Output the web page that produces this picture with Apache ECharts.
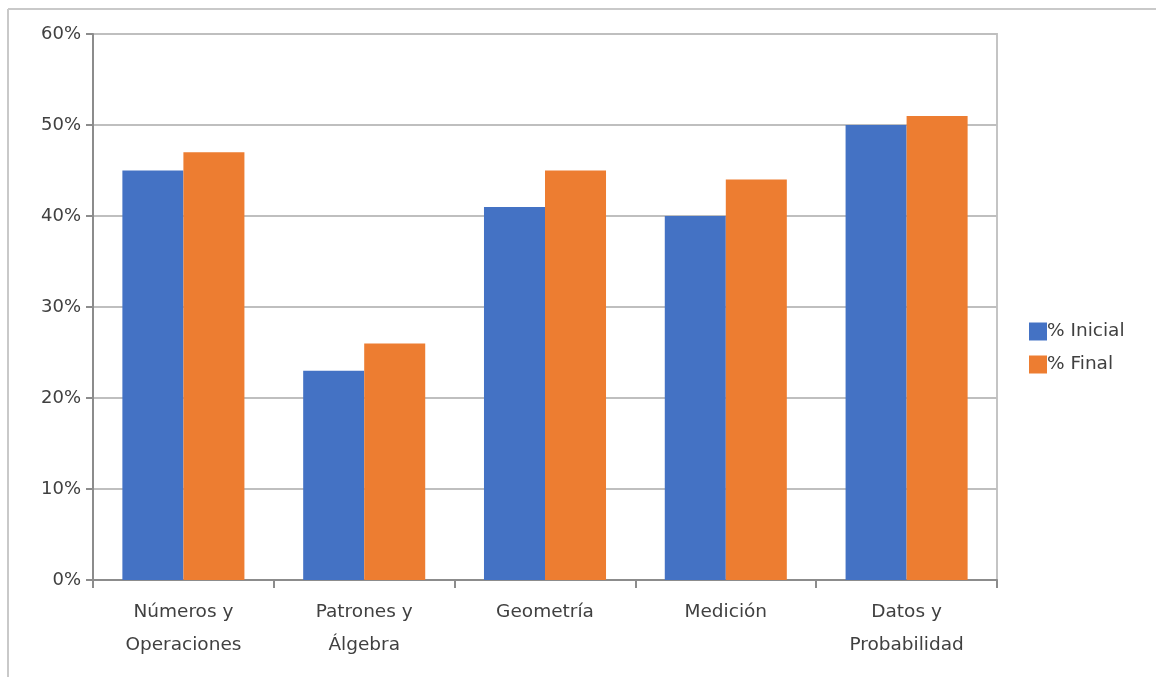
<!DOCTYPE html>
<html>
<head>
<meta charset="utf-8">
<script src="https://cdn.jsdelivr.net/npm/echarts@6/dist/echarts.min.js"></script>
<style>
html,body{margin:0;padding:0;background:#fff;}
#chart{width:1156px;height:677px;}
</style>
</head>
<body>
<div id="chart"></div>
<script>
const categories = ['Números y\nOperaciones', 'Patrones y\nÁlgebra', 'Geometría', 'Medición', 'Datos y\nProbabilidad'];
const inicial = [45, 23, 41, 40, 50];
const final = [47, 26, 45, 44, 51];
const yTicks = [0, 10, 20, 30, 40, 50, 60];

const chart = echarts.init(document.getElementById('chart'));
const font = 'DejaVu Sans';
chart.setOption({
  backgroundColor: '#fff',
  animation: false,
  textStyle: { fontFamily: font },
  graphic: [
    { type: 'line', shape: { x1: 8, y1: 9, x2: 1156, y2: 9 }, style: { stroke: '#c9c9c9', lineWidth: 2 } },
    { type: 'line', shape: { x1: 8, y1: 9, x2: 8, y2: 677 }, style: { stroke: '#c9c9c9', lineWidth: 2 } }
  ],
  grid: { left: 93, right: 159, top: 34, bottom: 97, show: true, borderColor: '#c4c4c4', borderWidth: 2, backgroundColor: 'transparent' },
  legend: {
    orient: 'vertical', left: 1024, top: 317,
    itemWidth: 18, itemHeight: 18, itemGap: 14,
    icon: 'rect',
    textStyle: { fontFamily: font, fontSize: 18.5, color: '#404040', padding: [0, 0, 0, -5] },
    data: ['% Inicial', '% Final']
  },
  xAxis: {
    type: 'category', data: categories,
    axisLine: { lineStyle: { color: '#8c8c8c', width: 2 } },
    axisTick: { show: true, alignWithLabel: false, length: 8, lineStyle: { color: '#8c8c8c', width: 2 } },
    axisLabel: { fontFamily: font, fontSize: 18.5, color: '#404040', margin: 16, lineHeight: 33, interval: 0 }
  },
  yAxis: {
    type: 'value', min: 0, max: 60, interval: 10,
    axisLine: { show: true, lineStyle: { color: '#8c8c8c', width: 2 } },
    axisTick: { show: true, length: 7, lineStyle: { color: '#8c8c8c', width: 2 } },
    axisLabel: { fontFamily: font, fontSize: 18, color: '#404040', margin: 12, padding: [8, 0, 0, 0], formatter: v => yTicks.includes(v) ? v + '%' : '' },
    splitLine: { lineStyle: { color: '#bfbfbf', width: 2 } }
  },
  series: [
    { name: '% Inicial', type: 'bar', data: inicial, itemStyle: { color: '#4472c4' }, barGap: '0%', barCategoryGap: '32.5%' },
    { name: '% Final', type: 'bar', data: final, itemStyle: { color: '#ed7d31' }, barGap: '0%', barCategoryGap: '32.5%' }
  ]
});
</script>
</body>
</html>
